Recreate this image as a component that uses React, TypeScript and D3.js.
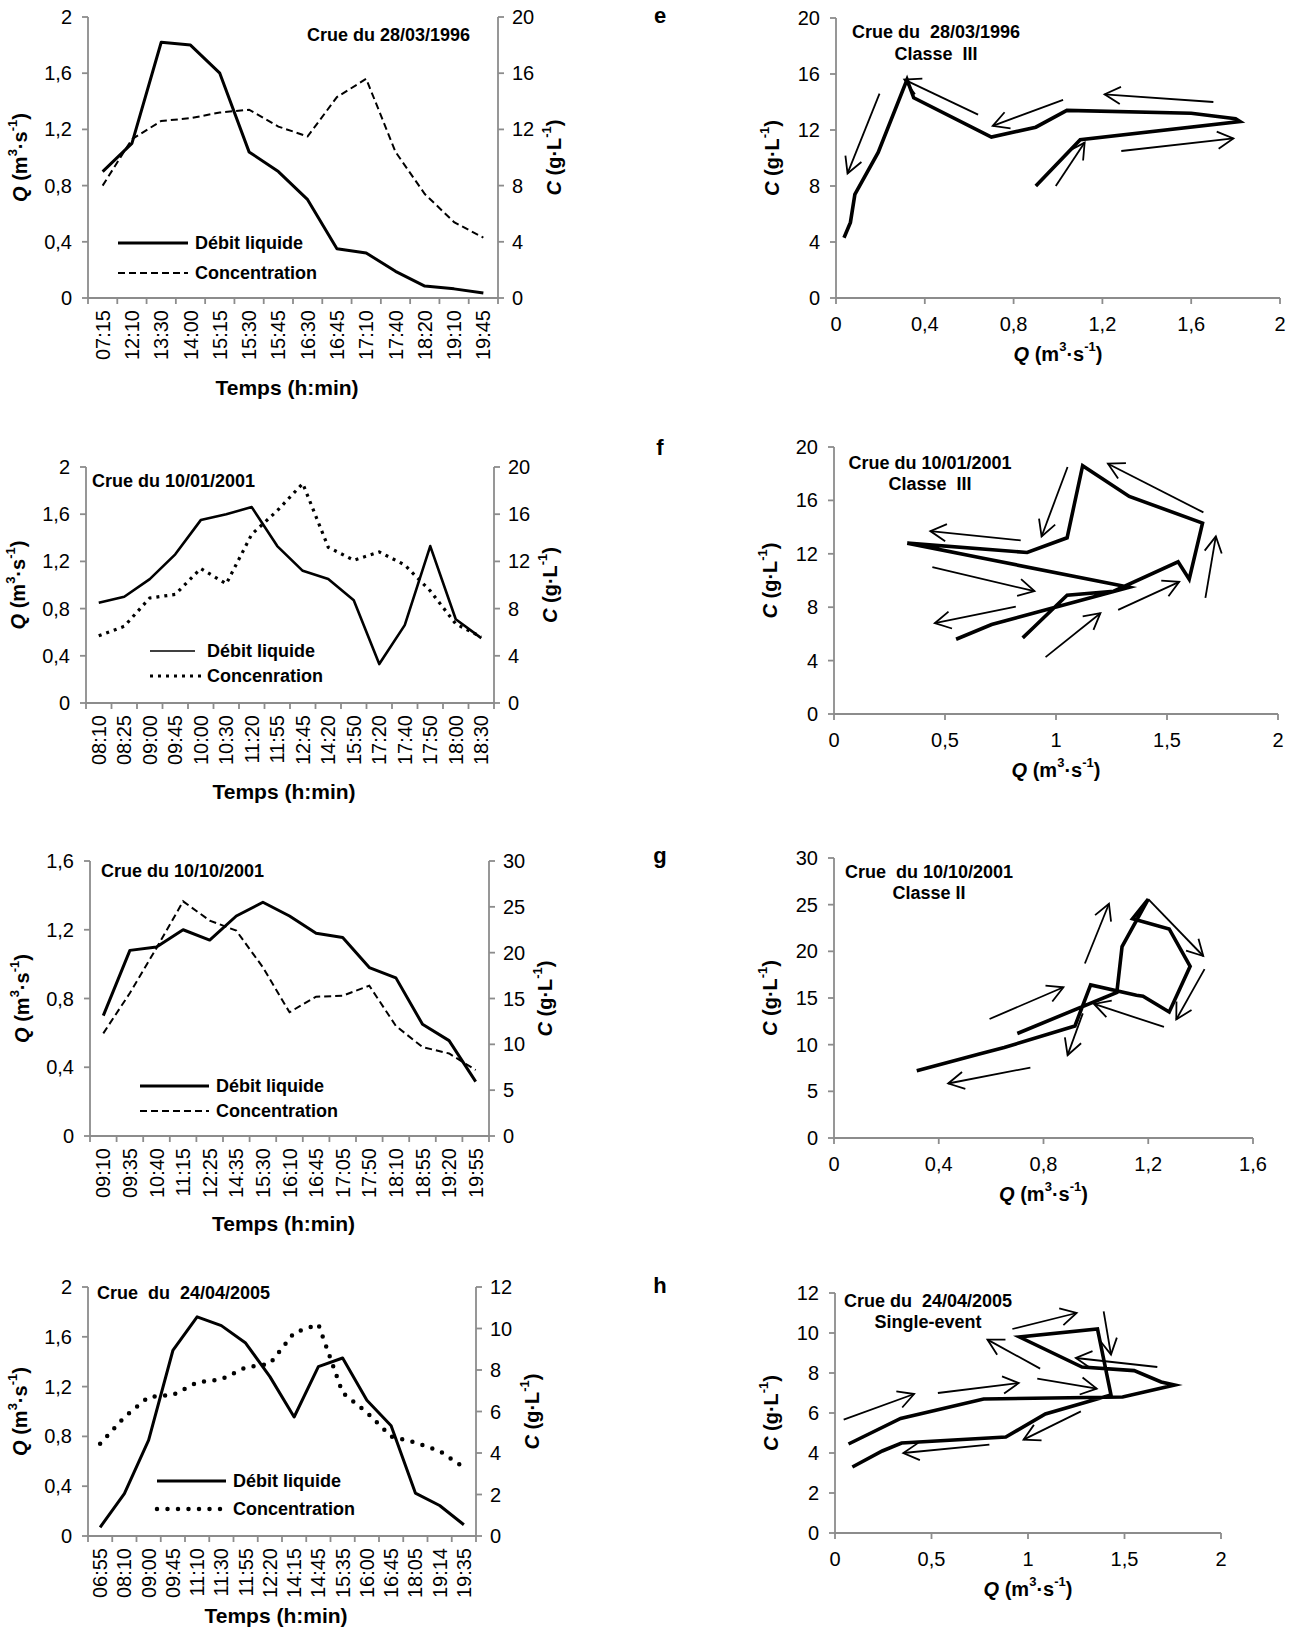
import React from 'react';
import * as d3 from 'd3';

// ---- Crue du 28/03/1996
const times1 = ['07:15', '12:10', '13:30', '14:00', '15:15', '15:30', '15:45', '16:30', '16:45', '17:10', '17:40', '18:20', '19:10', '19:45'];
const q1 = [0.9, 1.1, 1.82, 1.8, 1.6, 1.04, 0.9, 0.7, 0.35, 0.32, 0.19, 0.085, 0.065, 0.036];
const c1 = [8.0, 11.3, 12.6, 12.8, 13.2, 13.4, 12.2, 11.5, 14.3, 15.6, 10.4, 7.4, 5.4, 4.3];

// ---- Crue du 10/01/2001
const times2 = ['08:10', '08:25', '09:00', '09:45', '10:00', '10:30', '11:20', '11:55', '12:45', '14:20', '15:50', '17:20', '17:40', '17:50', '18:00', '18:30'];
const q2 = [0.85, 0.9, 1.05, 1.26, 1.55, 1.6, 1.66, 1.33, 1.12, 1.05, 0.87, 0.33, 0.66, 1.33, 0.71, 0.55];
const c2 = [5.7, 6.5, 8.9, 9.2, 11.4, 10.1, 14.3, 16.3, 18.6, 13.2, 12.1, 12.8, 11.7, 9.5, 6.7, 5.6];

// ---- Crue du 10/10/2001
const times3 = ['09:10', '09:35', '10:40', '11:15', '12:25', '14:35', '15:30', '16:10', '16:45', '17:05', '17:50', '18:10', '18:55', '19:20', '19:55'];
const q3 = [0.7, 1.08, 1.1, 1.2, 1.14, 1.28, 1.36, 1.28, 1.18, 1.155, 0.98, 0.92, 0.65, 0.555, 0.316];
const c3 = [11.2, 15.6, 20.5, 25.6, 23.5, 22.4, 18.4, 13.5, 15.2, 15.3, 16.4, 12.0, 9.7, 9.0, 7.2];

// ---- Crue du 24/04/2005
const times4 = ['06:55', '08:10', '09:00', '09:45', '11:10', '11:30', '11:55', '12:20', '14:15', '14:45', '15:35', '16:00', '16:45', '18:05', '19:14', '19:35'];
const q4 = [0.07, 0.34, 0.77, 1.49, 1.76, 1.69, 1.55, 1.28, 0.956, 1.36, 1.43, 1.09, 0.885, 0.345, 0.245, 0.09];
const c4 = [4.45, 5.73, 6.7, 6.8, 7.4, 7.55, 8.12, 8.3, 9.8, 10.2, 6.9, 5.95, 4.8, 4.5, 4.1, 3.3];

// hand-drawn arrows on the hysteresis loops: [Q from, C from, Q to, C to]
const arrowsE = [
  [0.196, 14.6, 0.052, 8.9],
  [0.64, 13.1, 0.308, 15.6],
  [1.023, 14.15, 0.706, 12.3],
  [1.7, 14.0, 1.21, 14.55],
  [1.285, 10.5, 1.79, 11.4],
  [0.99, 8.0, 1.12, 11.1],
];
const arrowsF = [
  [1.052, 18.5, 0.935, 13.3],
  [1.664, 15.1, 1.234, 18.75],
  [0.841, 13.0, 0.434, 13.7],
  [0.443, 11.0, 0.903, 9.2],
  [0.819, 8.05, 0.454, 6.8],
  [0.953, 4.26, 1.2, 7.55],
  [1.28, 7.8, 1.555, 9.9],
  [1.673, 8.7, 1.72, 13.3],
];
const arrowsG = [
  [0.958, 18.7, 1.05, 25.1],
  [1.2, 25.6, 1.41, 19.5],
  [1.415, 18.1, 1.307, 12.7],
  [1.26, 11.9, 0.993, 14.36],
  [0.95, 13.35, 0.892, 8.88],
  [0.594, 12.75, 0.876, 16.15],
  [0.75, 7.55, 0.436, 5.84],
];
const arrowsH = [
  [0.045, 5.67, 0.41, 6.95],
  [0.533, 7.0, 0.952, 7.5],
  [1.048, 7.72, 1.356, 7.22],
  [0.919, 10.2, 1.252, 11.0],
  [1.392, 11.08, 1.43, 8.92],
  [1.67, 8.3, 1.248, 8.75],
  [1.063, 8.22, 0.79, 9.67],
  [1.274, 6.08, 0.977, 4.67],
  [0.8, 4.42, 0.354, 4.0],
];

const FONT = '"Liberation Sans", Arial, Helvetica, sans-serif';
const AXIS = '#8c8c8c';
const TICK_FS = 20;

const fmt = (v: number) => String(+v.toFixed(2)).replace('.', ',');

type Box = { l: number; r: number; t: number; b: number };

const Sup = ({ children }: { children: React.ReactNode }) => (
  <tspan baselineShift="super" fontSize="13">{children}</tspan>
);

const QTitle = () => (
  <>
    <tspan fontStyle="italic">Q</tspan> (m<Sup>3</Sup>·s<Sup>-1</Sup>)
  </>
);
const CTitle = () => (
  <>
    <tspan fontStyle="italic">C</tspan> (g·L<Sup>-1</Sup>)
  </>
);

const concStyles: Record<string, any> = {
  dash: { strokeWidth: 2, strokeDasharray: '7 4' },
  square: { strokeWidth: 3.2, strokeDasharray: '3 5' },
  round: { strokeWidth: 4.5, strokeDasharray: '0 10.5', strokeLinecap: 'round' },
};

function TimePanel({ p }: { p: any }) {
  const box: Box = p.box;
  const x = d3.scaleBand<string>().domain(p.times).range([box.l, box.r]);
  const yq = d3.scaleLinear().domain([0, p.qMax]).range([box.b, box.t]);
  const yc = d3.scaleLinear().domain([0, p.cMax]).range([box.b, box.t]);
  const cx = (i: number) => x(p.times[i])! + x.bandwidth() / 2;
  const lineQ = d3.line<number>().x((_, i) => cx(i)).y(d => yq(d));
  const lineC = d3.line<number>().x((_, i) => cx(i)).y(d => yc(d));
  const qTicks = d3.range(0, p.qMax + 1e-9, p.qStep);
  const cTicks = d3.range(0, p.cMax + 1e-9, p.cStep);
  const bounds = [...p.times.map((t: string) => x(t)!), box.r];
  const midY = (box.t + box.b) / 2;
  const cs = concStyles[p.conc];
  return (
    <g>
      {/* axes */}
      <g stroke={AXIS} strokeWidth={1.8} fill="none">
        <line x1={box.l} x2={box.l} y1={box.t} y2={box.b} />
        <line x1={box.r} x2={box.r} y1={box.t} y2={box.b} />
        <line x1={box.l} x2={box.r} y1={box.b} y2={box.b} />
        {qTicks.map(v => <line key={'q' + v} x1={box.l - 6} x2={box.l} y1={yq(v)} y2={yq(v)} />)}
        {cTicks.map(v => <line key={'c' + v} x1={box.r} x2={box.r + 6} y1={yc(v)} y2={yc(v)} />)}
        {bounds.map((bx: number, i: number) => <line key={'x' + i} x1={bx} x2={bx} y1={box.b} y2={box.b + 6} />)}
      </g>
      <g fontFamily={FONT} fontSize={TICK_FS} fill="#000">
        {qTicks.map(v => (
          <text key={'ql' + v} x={box.l - 16} y={yq(v)} textAnchor="end" dominantBaseline="central">{fmt(v)}</text>
        ))}
        {cTicks.map(v => (
          <text key={'cl' + v} x={box.r + 14} y={yc(v)} dominantBaseline="central">{fmt(v)}</text>
        ))}
        {p.times.map((t: string, i: number) => (
          <text key={t + i} transform={`translate(${cx(i)},${box.b + 12}) rotate(-90)`} textAnchor="end" dominantBaseline="central">{t}</text>
        ))}
      </g>
      {/* series */}
      <path d={lineC(p.c)!} fill="none" stroke="#000" {...cs} />
      <path d={lineQ(p.q)!} fill="none" stroke="#000" strokeWidth={p.qw} strokeLinejoin="round" />
      {/* legend */}
      <line x1={p.leg.x1} x2={p.leg.x2} y1={p.leg.y1} y2={p.leg.y1} stroke="#000" strokeWidth={p.legQw} />
      <line x1={p.leg.x1} x2={p.leg.x2 + (p.conc === 'square' ? 6 : 0)} y1={p.leg.y2} y2={p.leg.y2} stroke="#000" {...cs} />
      <g fontFamily={FONT} fontWeight="bold" fontSize={18} fill="#000">
        <text x={p.leg.tx} y={p.leg.y1} dominantBaseline="central">{p.labels[0]}</text>
        <text x={p.leg.tx} y={p.leg.y2} dominantBaseline="central">{p.labels[1]}</text>
        <text x={p.titleX} y={p.titleY} dominantBaseline="central" style={{ whiteSpace: 'pre' }}>{p.title}</text>
      </g>
      {/* axis titles */}
      <g fontFamily={FONT} fontWeight="bold" fontSize={20} fill="#000">
        <text transform={`translate(${box.l - 68},${midY}) rotate(-90)`} textAnchor="middle" dominantBaseline="central"><QTitle /></text>
        <text transform={`translate(${box.r + 56},${midY}) rotate(-90)`} textAnchor="middle" dominantBaseline="central"><CTitle /></text>
        <text x={(box.l + box.r) / 2 - 6} y={box.b + p.tempsDy} textAnchor="middle" dominantBaseline="central" fontSize={21}>Temps (h:min)</text>
      </g>
    </g>
  );
}

function LoopPanel({ p }: { p: any }) {
  const box: Box = p.box;
  const x = d3.scaleLinear().domain([0, p.xMax]).range([box.l, box.r]);
  const y = d3.scaleLinear().domain([0, p.yMax]).range([box.b, box.t]);
  const xTicks = d3.range(0, p.xMax + 1e-9, p.xStep);
  const yTicks = d3.range(0, p.yMax + 1e-9, p.yStep);
  const loop = d3.line<number>().x(d => x(d)).y((_, i) => y(p.c[i]));
  const midY = (box.t + box.b) / 2;
  const head = (a: number[]) => {
    const x0 = x(a[0]), y0 = y(a[1]), x1 = x(a[2]), y1 = y(a[3]);
    const ang = Math.atan2(y0 - y1, x0 - x1);
    const len = 18, spread = 0.5;
    return `M${x1 + len * Math.cos(ang + spread)},${y1 + len * Math.sin(ang + spread)}L${x1},${y1}L${x1 + len * Math.cos(ang - spread)},${y1 + len * Math.sin(ang - spread)}`;
  };
  return (
    <g>
      <g stroke={AXIS} strokeWidth={1.8} fill="none">
        <line x1={box.l} x2={box.l} y1={box.t} y2={box.b} />
        <line x1={box.l} x2={box.r} y1={box.b} y2={box.b} />
        {yTicks.map(v => <line key={'y' + v} x1={box.l - 6} x2={box.l} y1={y(v)} y2={y(v)} />)}
        {xTicks.map(v => <line key={'x' + v} x1={x(v)} x2={x(v)} y1={box.b} y2={box.b + 6} />)}
      </g>
      <g fontFamily={FONT} fontSize={TICK_FS} fill="#000">
        {yTicks.map(v => (
          <text key={'yl' + v} x={box.l - 16} y={y(v)} textAnchor="end" dominantBaseline="central">{fmt(v)}</text>
        ))}
        {xTicks.map(v => (
          <text key={'xl' + v} x={x(v)} y={box.b + 26} textAnchor="middle" dominantBaseline="central">{fmt(v)}</text>
        ))}
      </g>
      <path d={loop(p.q)!} fill="none" stroke="#000" strokeWidth={3.6} strokeLinejoin="miter" strokeMiterlimit={6} />
      <g stroke="#000" strokeWidth={1.8} fill="none">
        {p.arrows.map((a: number[], i: number) => (
          <g key={i}>
            <line x1={x(a[0])} y1={y(a[1])} x2={x(a[2])} y2={y(a[3])} />
            <path d={head(a)} />
          </g>
        ))}
      </g>
      <g fontFamily={FONT} fontWeight="bold" fill="#000">
        <text x={660} y={p.letterY} textAnchor="middle" dominantBaseline="central" fontSize={22}>{p.letter}</text>
        {p.title.map((t: string, i: number) => (
          <text key={t} x={p.titleX} y={p.titleY[i]} textAnchor="middle" dominantBaseline="central" fontSize={18} style={{ whiteSpace: 'pre' }}>{t}</text>
        ))}
        <text transform={`translate(${box.l - 64},${midY}) rotate(-90)`} textAnchor="middle" dominantBaseline="central" fontSize={20}><CTitle /></text>
        <text x={(box.l + box.r) / 2} y={box.b + 56} textAnchor="middle" dominantBaseline="central" fontSize={20}><QTitle /></text>
      </g>
    </g>
  );
}

const timePanels = [
  {
    times: times1, q: q1, c: c1, qMax: 2, qStep: 0.4, cMax: 20, cStep: 4,
    box: { l: 88, r: 498, t: 17, b: 298 }, title: 'Crue du 28/03/1996', titleX: 307, titleY: 35,
    leg: { x1: 118, x2: 188, tx: 195, y1: 243, y2: 273 }, labels: ['Débit liquide', 'Concentration'],
    conc: 'dash', qw: 3, legQw: 3, tempsDy: 89,
  },
  {
    times: times2, q: q2, c: c2, qMax: 2, qStep: 0.4, cMax: 20, cStep: 4,
    box: { l: 86, r: 494, t: 467, b: 703 }, title: 'Crue du 10/01/2001', titleX: 92, titleY: 481,
    leg: { x1: 150, x2: 195, tx: 207, y1: 651, y2: 676 }, labels: ['Débit liquide', 'Concenration'],
    conc: 'square', qw: 2.6, legQw: 1.6, tempsDy: 88,
  },
  {
    times: times3, q: q3, c: c3, qMax: 1.6, qStep: 0.4, cMax: 30, cStep: 5,
    box: { l: 90, r: 489, t: 861, b: 1136 }, title: 'Crue du 10/10/2001', titleX: 101, titleY: 871,
    leg: { x1: 140, x2: 209, tx: 216, y1: 1086, y2: 1111 }, labels: ['Débit liquide', 'Concentration'],
    conc: 'dash', qw: 3, legQw: 3, tempsDy: 87,
  },
  {
    times: times4, q: q4, c: c4, qMax: 2, qStep: 0.4, cMax: 12, cStep: 2,
    box: { l: 88, r: 476, t: 1287, b: 1536 }, title: 'Crue  du  24/04/2005', titleX: 97, titleY: 1293,
    leg: { x1: 157, x2: 226, tx: 233, y1: 1481, y2: 1509 }, labels: ['Débit liquide', 'Concentration'],
    conc: 'round', qw: 3, legQw: 3, tempsDy: 79,
  },
];

const loopPanels = [
  {
    q: q1, c: c1, xMax: 2, xStep: 0.4, yMax: 20, yStep: 4, box: { l: 836, r: 1280, t: 18, b: 298 },
    letter: 'e', letterY: 15, title: ['Crue du  28/03/1996', 'Classe  III'], titleX: 936, titleY: [32, 54], arrows: arrowsE,
  },
  {
    q: q2, c: c2, xMax: 2, xStep: 0.5, yMax: 20, yStep: 4, box: { l: 834, r: 1278, t: 447, b: 714 },
    letter: 'f', letterY: 447, title: ['Crue du 10/01/2001', 'Classe  III'], titleX: 930, titleY: [463, 484], arrows: arrowsF,
  },
  {
    q: q3, c: c3, xMax: 1.6, xStep: 0.4, yMax: 30, yStep: 5, box: { l: 834, r: 1253, t: 858, b: 1138 },
    letter: 'g', letterY: 855, title: ['Crue  du 10/10/2001', 'Classe II'], titleX: 929, titleY: [872, 893], arrows: arrowsG,
  },
  {
    q: q4, c: c4, xMax: 2, xStep: 0.5, yMax: 12, yStep: 2, box: { l: 835, r: 1221, t: 1293, b: 1533 },
    letter: 'h', letterY: 1285, title: ['Crue du  24/04/2005', 'Single-event'], titleX: 928, titleY: [1301, 1322], arrows: arrowsH,
  },
];

const App: React.FC = () => {
  return (
    <svg width={1296} height={1637} style={{ position: 'absolute', left: 0, top: 0, background: '#fff' }}>
      <rect width={1296} height={1637} fill="#fff" />
      {timePanels.map((p, i) => <TimePanel key={'t' + i} p={p} />)}
      {loopPanels.map((p, i) => <LoopPanel key={'l' + i} p={p} />)}
    </svg>
  );
};

export default App;
